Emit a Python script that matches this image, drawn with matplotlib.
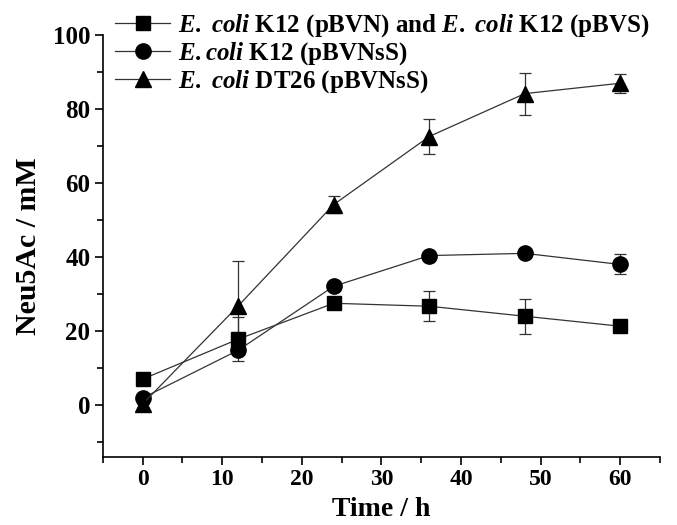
import matplotlib
matplotlib.use("Agg")
import matplotlib.pyplot as plt
from matplotlib.lines import Line2D
from matplotlib.ticker import MultipleLocator

# sampling times (h)
time_h = [0, 12, 24, 36, 48, 60]

# Neu5Ac concentration (mM) and error bars for each strain
k12_pbvn = [7.0, 17.8, 27.5, 26.7, 24.0, 21.3]
k12_pbvn_err = [0, 6.0, 0, 4.0, 4.7, 0]
k12_pbvnss = [1.9, 14.8, 32.1, 40.4, 41.0, 38.0]
k12_pbvnss_err = [0, 0, 0, 0, 0, 2.7]
dt26_pbvnss = [0.3, 26.8, 54.2, 72.6, 84.2, 87.0]
dt26_pbvnss_err = [0, 12.0, 2.3, 4.6, 5.7, 2.6]

labels = [
    r"$\mathit{E.}$ $\mathit{coli}$ K12 (pBVN) and $\mathit{E.}$ $\mathit{coli}$ K12 (pBVS)",
    r"$\mathit{E.coli}$ K12 (pBVNsS)",
    r"$\mathit{E.}$ $\mathit{coli}$ DT26 (pBVNsS)",
]

plt.rcParams["font.family"] = "Liberation Serif"
plt.rcParams["font.weight"] = "bold"
plt.rcParams["mathtext.fontset"] = "custom"
plt.rcParams["mathtext.it"] = "Liberation Serif:italic:bold"
plt.rcParams["mathtext.rm"] = "Liberation Serif:bold"

fig = plt.figure(figsize=(6.77, 5.25), dpi=100)
ax = fig.add_axes([0.152, 0.13, 0.823, 0.803])

series = [
    (k12_pbvn, k12_pbvn_err, "s", 10),
    (k12_pbvnss, k12_pbvnss_err, "o", 11),
    (dt26_pbvnss, dt26_pbvnss_err, "^", 12),
]
handles = []
for (vals, errs, mk, ms), lab in zip(series, labels):
    ax.errorbar(time_h, vals, yerr=errs, fmt="-", marker=mk, markersize=ms,
                color="#333333", mfc="black", mec="black", linewidth=0.9,
                elinewidth=0.9, ecolor="#333333", capsize=4, capthick=0.9)
    handles.append(Line2D([], [], color="#333333", linewidth=0.9, marker=mk,
                          markersize=ms, mfc="black", mec="black", label=lab))

ax.set_xlim(-5, 65)
ax.set_ylim(-14, 100)
ax.xaxis.set_major_locator(MultipleLocator(10))
ax.xaxis.set_minor_locator(MultipleLocator(5))
ax.yaxis.set_major_locator(MultipleLocator(20))
ax.yaxis.set_minor_locator(MultipleLocator(10))
ax.tick_params(which="both", direction="out", width=1.2)
ax.tick_params(which="major", length=6)
ax.tick_params(which="minor", length=4)
ax.tick_params(axis="x", which="major", labelsize=17, pad=3)
ax.tick_params(axis="y", which="major", labelsize=18, pad=3)
for s in ["top", "right"]:
    ax.spines[s].set_visible(False)
for s in ["left", "bottom"]:
    ax.spines[s].set_linewidth(1.2)

ax.set_xlabel("Time / h", fontsize=20, fontweight="bold", labelpad=5)
ax.set_ylabel("Neu5Ac / mM", fontsize=21.5, fontweight="bold", labelpad=8)

ax.legend(handles=handles, loc="upper left", bbox_to_anchor=(-0.005, 1.09),
          frameon=False, fontsize=18, handlelength=2.2, handletextpad=0.3,
          labelspacing=0.05, borderaxespad=0.2)

fig.savefig("out.png", dpi=100)
